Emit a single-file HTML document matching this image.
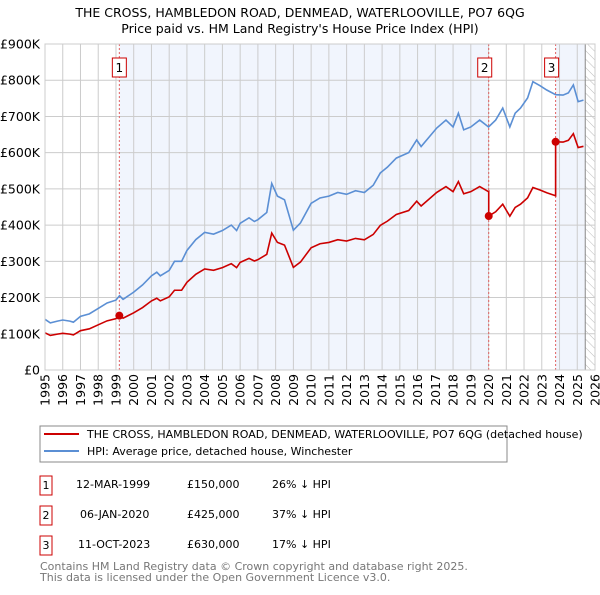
<!DOCTYPE html>
<html><head><meta charset="utf-8"><style>
body{margin:0;background:#fff;font-family:"Liberation Sans","DejaVu Sans",sans-serif;}
svg text{font-family:"DejaVu Sans","Liberation Sans",sans-serif;}
</style></head><body>
<svg id="chart" width="600" height="590" xmlns="http://www.w3.org/2000/svg">
<defs><pattern id="hatch" width="6" height="6" patternUnits="userSpaceOnUse" patternTransform="rotate(-45)"><line x1="0" y1="0" x2="0" y2="6" stroke="#bbb" stroke-width="1"/></pattern></defs>
<text x="300" y="17" text-anchor="middle" font-size="12.5">THE CROSS, HAMBLEDON ROAD, DENMEAD, WATERLOOVILLE, PO7 6QG</text>
<text x="300" y="33" text-anchor="middle" font-size="12.5">Price paid vs. HM Land Registry's House Price Index (HPI)</text>
<g id="plot"></g>
<g>
<rect x="40" y="426" width="467" height="36" fill="#fff" stroke="#888"/>
<line x1="44" y1="434" x2="79" y2="434" stroke="#cc0000" stroke-width="2"/>
<text x="87" y="438" font-size="11">THE CROSS, HAMBLEDON ROAD, DENMEAD, WATERLOOVILLE, PO7 6QG (detached house)</text>
<line x1="44" y1="451" x2="79" y2="451" stroke="#5b8fd4" stroke-width="2"/>
<text x="87" y="455" font-size="11">HPI: Average price, detached house, Winchester</text>
</g>
<g font-size="11">
<rect x="40" y="476" width="12" height="19" fill="#fff" stroke="#cc0000"/><text x="46" y="489" text-anchor="middle">1</text>
<text x="76" y="488">12-MAR-1999</text><text x="187" y="488">£150,000</text><text x="272" y="488">26% ↓ HPI</text>
<rect x="40" y="506" width="12" height="19" fill="#fff" stroke="#cc0000"/><text x="46" y="519" text-anchor="middle">2</text>
<text x="80" y="518">06-JAN-2020</text><text x="187" y="518">£425,000</text><text x="272" y="518">37% ↓ HPI</text>
<rect x="40" y="536" width="12" height="19" fill="#fff" stroke="#cc0000"/><text x="46" y="549" text-anchor="middle">3</text>
<text x="78" y="548">11-OCT-2023</text><text x="187" y="548">£630,000</text><text x="272" y="548">17% ↓ HPI</text>
</g>
<text x="40" y="570" font-size="11" fill="#777">Contains HM Land Registry data © Crown copyright and database right 2025.</text>
<text x="40" y="581" font-size="11" fill="#777">This data is licensed under the Open Government Licence v3.0.</text>
</svg>
<script>
const hpiYears=[1995,1995.3,1995.7,1996,1996.4,1996.6,1997,1997.5,1998,1998.5,1999,1999.2,1999.4,2000,2000.5,2001,2001.3,2001.5,2002,2002.3,2002.7,2003,2003.5,2004,2004.5,2005,2005.5,2005.8,2006,2006.5,2006.8,2007,2007.5,2007.78,2008.1,2008.5,2009.0,2009.4,2010,2010.5,2011,2011.5,2012,2012.5,2013,2013.5,2013.9,2014.3,2014.8,2015.5,2015.95,2016.2,2017.08,2017.6,2018,2018.3,2018.6,2019,2019.5,2020,2020.4,2020.8,2021.2,2021.5,2021.8,2022.2,2022.5,2022.9,2023.28,2023.78,2024.2,2024.5,2024.78,2025.05,2025.35];
const hpiValues=[140,130,135,138,135,132,148,155,170,185,193,205,195,215,235,260,270,260,275,300,300,330,360,380,375,385,400,385,405,420,410,415,435,515,480,470,386,406,460,475,480,490,485,495,490,510,544,560,585,600,635,617,668,690,671,709,663,671,690,671,690,723,671,709,723,751,796,785,773,760,759,765,787,741,745];
const saleYears=[1999.19,2020.01,2023.78];
const salePrices=[150,425,630];
const yTicks=[0,100,200,300,400,500,600,700,800,900];
const yTickLabels=["£0","£100K","£200K","£300K","£400K","£500K","£600K","£700K","£800K","£900K"];
const xTicks=[1995,1996,1997,1998,1999,2000,2001,2002,2003,2004,2005,2006,2007,2008,2009,2010,2011,2012,2013,2014,2015,2016,2017,2018,2019,2020,2021,2022,2023,2024,2025,2026];
const dataEnd=2025.45;

const X0=45,X1=595,Y0=370,Y1=44;
const xs=t=>X0+(t-1995)/(2026-1995)*(X1-X0);
const ys=v=>Y0-v/900*(Y0-Y1);
const NS="http://www.w3.org/2000/svg";
const g=document.getElementById('plot');
function mk(tag,attrs,parent){const e=document.createElementNS(NS,tag);for(const k in attrs)e.setAttribute(k,attrs[k]);(parent||g).appendChild(e);return e;}
function hpiAt(t){for(let i=1;i<hpiYears.length;i++){if(t<=hpiYears[i]){const f=(t-hpiYears[i-1])/(hpiYears[i]-hpiYears[i-1]);return hpiValues[i-1]+f*(hpiValues[i]-hpiValues[i-1]);}}return hpiValues[hpiValues.length-1];}
// shading
let s1=mk('rect',{x:xs(saleYears[0]),y:Y1,width:xs(saleYears[1])-xs(saleYears[0]),height:Y0-Y1,fill:'#f1f5fd'});


let s2=mk('rect',{x:xs(saleYears[2]),y:Y1,width:xs(dataEnd)-xs(saleYears[2]),height:Y0-Y1,fill:'#f1f5fd'});


let hz=mk('rect',{x:xs(dataEnd),y:Y1,width:X1-xs(dataEnd),height:Y0-Y1,fill:'url(#hatch)'});


// grid
yTicks.forEach((v,i)=>{
 mk('line',{x1:X0,x2:X1,y1:ys(v),y2:ys(v),stroke:'#ccc','stroke-width':1});
 const t=mk('text',{x:X0-5,y:ys(v)+4.5,'text-anchor':'end','font-size':12.5});t.textContent=yTickLabels[i];
 
 
});
xTicks.forEach(yr=>{
 mk('line',{x1:xs(yr),x2:xs(yr),y1:Y1,y2:Y0,stroke:'#ccc','stroke-width':1});
 const t=mk('text',{x:0,y:0,'text-anchor':'end','font-size':12.5,transform:`translate(${xs(yr)+4.5},${Y0+4}) rotate(-90)`});t.textContent=yr;
 
 
});
mk('line',{x1:xs(dataEnd),x2:xs(dataEnd),y1:Y1,y2:Y0,stroke:'#888','stroke-width':1});
// sale vlines
saleYears.forEach((sy,i)=>{
 const l=mk('line',{x1:xs(sy),x2:xs(sy),y1:Y1,y2:Y0,stroke:'#e06060','stroke-width':1,'stroke-dasharray':'2,2'});
 
 
 const bx=xs(sy)-(i==0?0:4);
 mk('rect',{x:bx-7,y:58,width:14,height:19,fill:'#fff',stroke:'#cc0000'});
 const t=mk('text',{x:bx,y:72,'text-anchor':'middle','font-size':12});t.textContent=i+1;
 
 
});
// hpi line
const hp=mk('polyline',{points:hpiYears.map((t,i)=>xs(t)+','+ys(hpiValues[i])).join(' '),fill:'none',stroke:'#5b8fd4','stroke-width':1.6});


// property line: HPI indexed to each sale
const ratios=saleYears.map((sy,i)=>salePrices[i]/hpiAt(sy));
function ratioFor(t){return t<saleYears[1]?ratios[0]:t<saleYears[2]?ratios[1]:ratios[2];}
let pts=[];let ts=hpiYears.concat(saleYears).sort((a,b)=>a-b);
ts.forEach(t=>{
 if(t===saleYears[1]||t===saleYears[2]){const h=hpiAt(t);pts.push([t,h*ratioFor(t-1e-6)]);pts.push([t,h*ratioFor(t)]);}
 else pts.push([t,hpiAt(t)*ratioFor(t)]);
});
const pl=mk('polyline',{points:pts.map(p=>xs(p[0])+','+ys(p[1])).join(' '),fill:'none',stroke:'#cc0000','stroke-width':1.6});


saleYears.forEach((sy,i)=>{
 const c=mk('circle',{cx:xs(sy),cy:ys(salePrices[i]),r:4,fill:'#cc0000'});
 
 
});
mk('rect',{x:X0,y:Y1,width:X1-X0,height:Y0-Y1,fill:'none',stroke:'#ccc'});
</script>
</body></html>
